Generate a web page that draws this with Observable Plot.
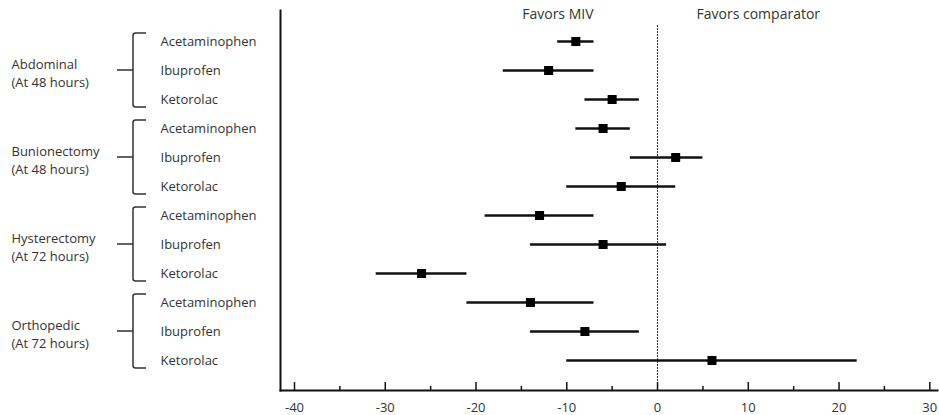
<!DOCTYPE html>
<html>
<head>
<meta charset="utf-8">
<script src="https://cdn.jsdelivr.net/npm/d3@7"></script>
<script src="https://cdn.jsdelivr.net/npm/@observablehq/plot@0.6"></script>
<style>
  html, body { margin: 0; padding: 0; background: #fff; }
  #chart svg { display: block; }
</style>
</head>
<body>
<div id="chart"></div>
<script>
// ---- data ----
const groups = ["Abdominal", "Bunionectomy", "Hysterectomy", "Orthopedic"];
const timepoints = ["(At 48 hours)", "(At 48 hours)", "(At 72 hours)", "(At 72 hours)"];
const drugs = ["Acetaminophen", "Ibuprofen", "Ketorolac"];
const estimates = [-9, -12, -5, -6, 2, -4, -13, -6, -26, -14, -8, 6];
const lower = [-11, -17, -8, -9, -3, -10, -19, -14, -31, -21, -14, -10];
const upper = [-7, -7, -2, -3, 5, 2, -7, 1, -21, -7, -2, 22];
const xTicks = [-40, -30, -20, -10, 0, 10, 20, 30];
const xMinorTicks = [-35, -25, -15, -5, 5, 15, 25];
const headers = ["Favors MIV", "Favors comparator"];

// ---- table built from the arrays ----
const rows = [];
groups.forEach((g, gi) => drugs.forEach((d, di) => {
  const i = gi * drugs.length + di;
  rows.push({key: g + "|" + d, group: g, drug: d, est: estimates[i], lo: lower[i], hi: upper[i]});
}));
const groupRows = groups.map((g, gi) => ({
  group: g,
  label: g + "\n" + timepoints[gi],
  first: g + "|" + drugs[0],
  mid: g + "|" + drugs[1],
  last: g + "|" + drugs[drugs.length - 1]
}));

const ink = "#111";
const textInk = "#333";

// braces drawn through the y scale
function braces(index, scales, values, dimensions) {
  const g = d3.create("svg:g");
  const left = dimensions.marginLeft;
  const x0 = left - 147, hook = left - 134, stem = left - 163, r = 2.5;
  for (const d of groupRows) {
    const top = scales.y(d.first) - 8;
    const bottom = scales.y(d.last) + 8;
    const mid = scales.y(d.mid);
    g.append("path")
      .attr("d", `M${hook},${top}H${x0 + r}Q${x0},${top} ${x0},${top + r}V${bottom - r}Q${x0},${bottom} ${x0 + r},${bottom}H${hook}M${stem},${mid}H${x0}`)
      .attr("fill", "none")
      .attr("stroke", "#333")
      .attr("stroke-width", 1.5);
  }
  return g.node();
}

const chart = Plot.plot({
  width: 939,
  height: 415,
  marginLeft: 280,
  marginRight: 2,
  marginTop: 10,
  marginBottom: 25,
  style: {fontFamily: "'Open Sans', sans-serif", fontSize: "13px", background: "#fff", color: textInk},
  x: {domain: [-40, 30], insetLeft: 14, insetRight: 7.7, axis: null},
  y: {type: "point", domain: rows.map(d => d.key), padding: 0, insetTop: 30.5, insetBottom: 30.5, axis: null},
  marks: [
    // reference line at zero
    Plot.ruleX([0], {stroke: "#333", strokeWidth: 1, strokeDasharray: "2,1", insetTop: 15}),
    // axis frame lines
    Plot.frame({anchor: "left", stroke: ink, strokeWidth: 2}),
    Plot.frame({anchor: "bottom", stroke: ink, strokeWidth: 2}),
    // ticks pointing up
    Plot.ruleX(xTicks, {x: d => d, stroke: ink, strokeWidth: 1.5, insetTop: 372}),
    Plot.ruleX(xMinorTicks, {x: d => d, stroke: ink, strokeWidth: 1.5, insetTop: 376}),
    Plot.axisX(xTicks, {tickSize: 0, tickPadding: 12, fontSize: 13, fill: textInk, tickFormat: d => String(d)}),
    // confidence intervals and point estimates
    Plot.ruleY(rows, {y: "key", x1: "lo", x2: "hi", stroke: ink, strokeWidth: 2.5}),
    Plot.dot(rows, {x: "est", y: "key", symbol: "square", r: 5.1, fill: "#000", stroke: null}),
    // drug labels
    Plot.text(rows, {y: "key", text: "drug", frameAnchor: "left", textAnchor: "start", dx: -120, fill: textInk, fontSize: 13}),
    // group labels
    Plot.text(groupRows, {y: "mid", text: "label", frameAnchor: "left", textAnchor: "start", dx: -269, dy: 1.5, lineHeight: 1.4, fill: textInk, fontSize: 13}),
    braces,
    // headers
    Plot.text([headers[0]], {x: 0, text: d => d, frameAnchor: "top", lineAnchor: "middle", textAnchor: "end", dx: -64, dy: 4, fill: textInk, fontSize: 14}),
    Plot.text([headers[1]], {x: 0, text: d => d, frameAnchor: "top", lineAnchor: "middle", textAnchor: "start", dx: 39, dy: 4, fill: textInk, fontSize: 14})
  ]
});
document.getElementById("chart").append(chart);
</script>
</body>
</html>
